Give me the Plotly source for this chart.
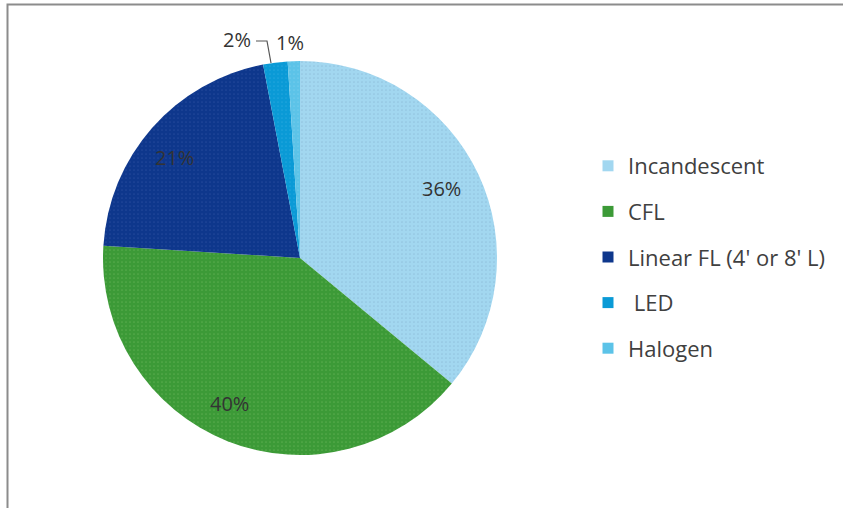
import plotly.graph_objects as go

# Share of lamps by technology
categories = ["Incandescent", "CFL", "Linear FL (4' or 8' L)", " LED", "Halogen"]
shares = [36, 40, 21, 2, 1]
colors = ["#A2D7F0", "#3C9A37", "#0E378C", "#0A9AD6", "#5CC3E8"]
dot_colors = ["#8DBBD9", "#62B255", "#2A4FA0", "#2AAAE0", "#7ACFEE"]

W, H = 843, 508
CX, CY, R = 300, 258, 197


def px(x):
    return x / W


def py(y):
    return 1 - y / H


fig = go.Figure()

fig.add_trace(go.Pie(
    labels=categories,
    values=shares,
    sort=False,
    direction="clockwise",
    rotation=0,
    textinfo="none",
    hoverinfo="label+percent",
    showlegend=False,
    marker=dict(
        colors=colors,
        line=dict(width=0),
        pattern=dict(shape=".", bgcolor=colors, fgcolor=dot_colors,
                     fgopacity=0.7, size=4, solidity=0.15),
    ),
    domain=dict(x=[px(CX - R), px(CX + R)], y=[py(CY + R), py(CY - R)]),
))

# Legend entries (one per category, square swatches)
for i, (name, c) in enumerate(zip(categories, colors)):
    fig.add_trace(go.Scatter(
        x=[None], y=[None], mode="markers", name=name,
        legendgroup=f"g{i}",
        marker=dict(symbol="square", size=11, color=c),
        hoverinfo="skip",
    ))

# Data label anchors (pixel space)
label_pos = [(441, 188), (229, 403), (174, 157), (237, 40), (290, 43)]
for v, (x, y) in zip(shares, label_pos):
    fig.add_annotation(
        x=px(x), y=py(y), xref="paper", yref="paper",
        text=f"{v}%", showarrow=False,
        font=dict(family="Open Sans", size=20, color="#333333"),
        xanchor="center", yanchor="middle",
    )

# Leader line for the small LED label
fig.add_shape(
    type="path", xref="paper", yref="paper",
    path=f"M {px(256)},{py(41)} L {px(267)},{py(41)} L {px(271)},{py(63)}",
    line=dict(color="#555555", width=1.2),
)

# Chart frame (top and left edges)
fig.add_shape(
    type="path", xref="paper", yref="paper",
    path=f"M {px(7.5)},{py(510)} L {px(7.5)},{py(4.5)} L {px(845)},{py(4.5)}",
    line=dict(color="#8C8C8C", width=2),
)

fig.update_layout(
    width=W, height=H,
    margin=dict(l=0, r=0, t=0, b=0),
    paper_bgcolor="white",
    plot_bgcolor="white",
    xaxis=dict(visible=False),
    yaxis=dict(visible=False),
    font=dict(family="Open Sans", color="#404040"),
    legend=dict(
        x=px(588), y=py(145), xanchor="left", yanchor="top",
        font=dict(family="Open Sans", size=22, color="#404040"),
        tracegroupgap=14,
        bgcolor="rgba(0,0,0,0)",
        itemclick=False, itemdoubleclick=False,
    ),
)

fig.write_html("out.html")
